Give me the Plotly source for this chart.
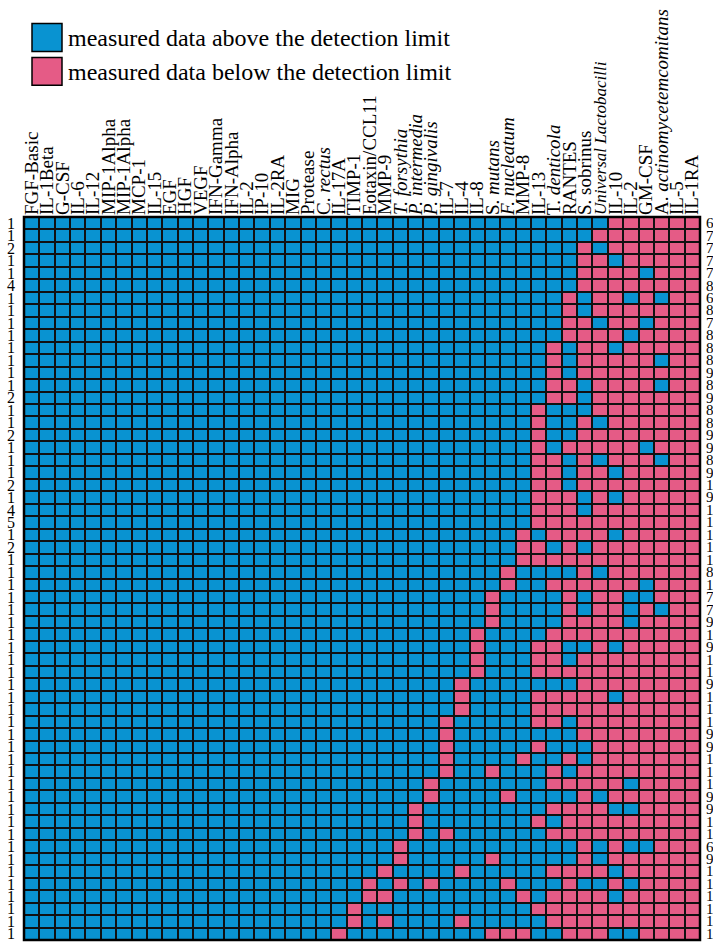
import plotly.graph_objects as go

# Analytes (columns), left to right
analytes = [
    "FGF-Basic", "IL-1Beta", "G-CSF", "IL-6", "IL-12", "MIP-1Alpha", "MIP-1Alpha",
    "MCP-1", "IL-15", "EGF", "HGF", "VEGF", "IFN-Gamma", "IFN-Alpha", "IL-2",
    "IP-10", "IL-2RA", "MIG", "Protease", "C. <i>rectus</i>", "IL-17A", "TIMP-1",
    "Eotaxin/CCL11", "MMP-9", "<i>T. forsythia</i>", "<i>P. intermedia</i>",
    "<i>P. gingivalis</i>", "IL-7", "IL-4", "IL-8", "S. <i>mutans</i>",
    "<i>F. nucleatum</i>", "MMP-8", "IL-13", "T. <i>denticola</i>", "RANTES",
    "S. sobrinus", "<span style='font-size:17px'><i>Universal Lactobacilli</i></span>",
    "IL-10", "IL-2", "GM-CSF",
    "A. <i>actinomycetemcomitans</i>", "IL-5", "IL-1RA",
]

# Number of samples sharing each detection pattern (one entry per row)
samples = [
    1, 1, 2, 1, 1, 4, 1, 1, 1, 1, 1, 1, 1, 1, 2, 1, 1, 2, 1, 1,
    1, 2, 1, 4, 5, 1, 2, 1, 1, 1, 1, 1, 1, 1, 1, 1, 1, 1, 1, 1,
    1, 1, 1, 1, 1, 1, 1, 1, 1, 1, 1, 1, 1, 1, 1, 1, 1, 1,
]

# Column indices of analytes measured below the detection limit, per row
below_limit = [
    [38, 39, 40, 41, 42, 43],
    [37, 38, 39, 40, 41, 42, 43],
    [36, 38, 39, 40, 41, 42, 43],
    [36, 37, 39, 40, 41, 42, 43],
    [36, 37, 38, 39, 41, 42, 43],
    [36, 37, 38, 39, 40, 41, 42, 43],
    [35, 37, 38, 40, 42, 43],
    [35, 37, 38, 39, 40, 41, 42, 43],
    [35, 36, 38, 39, 41, 42, 43],
    [35, 36, 37, 38, 40, 41, 42, 43],
    [34, 36, 37, 39, 40, 41, 42, 43],
    [34, 36, 37, 38, 39, 40, 42, 43],
    [34, 36, 37, 38, 39, 40, 41, 42, 43],
    [34, 35, 37, 38, 39, 40, 42, 43],
    [34, 35, 37, 38, 39, 40, 41, 42, 43],
    [33, 37, 38, 39, 40, 41, 42, 43],
    [33, 36, 38, 39, 40, 41, 42, 43],
    [33, 36, 37, 38, 39, 40, 41, 42, 43],
    [33, 35, 36, 37, 38, 39, 41, 42, 43],
    [33, 34, 36, 38, 39, 40, 42, 43],
    [33, 34, 36, 37, 39, 40, 41, 42, 43],
    [33, 34, 36, 37, 38, 39, 40, 41, 42, 43],
    [33, 34, 35, 37, 39, 40, 41, 42, 43],
    [33, 34, 35, 37, 38, 39, 40, 41, 42, 43],
    [33, 34, 35, 36, 37, 38, 39, 40, 41, 42, 43],
    [32, 34, 35, 36, 37, 39, 40, 41, 42, 43],
    [32, 33, 35, 37, 38, 39, 40, 41, 42, 43],
    [32, 33, 34, 35, 36, 37, 38, 39, 40, 41, 42, 43],
    [31, 36, 38, 39, 40, 41, 42, 43],
    [31, 34, 35, 36, 37, 38, 39, 41, 42, 43],
    [30, 35, 37, 38, 41, 42, 43],
    [30, 35, 37, 38, 40, 42, 43],
    [30, 35, 36, 37, 38, 40, 41, 42, 43],
    [29, 34, 35, 36, 37, 38, 39, 40, 41, 42, 43],
    [29, 33, 34, 37, 39, 40, 41, 42, 43],
    [29, 33, 34, 36, 37, 38, 39, 40, 41, 42, 43],
    [29, 33, 34, 35, 36, 37, 38, 39, 40, 41, 42, 43],
    [28, 36, 37, 38, 39, 40, 41, 42, 43],
    [28, 33, 34, 35, 36, 37, 39, 40, 41, 42, 43],
    [28, 33, 34, 35, 36, 37, 38, 39, 40, 41, 42, 43],
    [27, 33, 34, 36, 37, 38, 39, 40, 41, 42, 43],
    [27, 36, 37, 38, 39, 40, 41, 42, 43],
    [27, 33, 37, 38, 39, 40, 41, 42, 43],
    [27, 32, 35, 37, 38, 39, 40, 41, 42, 43],
    [27, 30, 34, 36, 37, 38, 39, 40, 41, 42, 43],
    [26, 34, 35, 36, 37, 38, 40, 41, 42, 43],
    [26, 31, 36, 38, 39, 40, 41, 42, 43],
    [25, 34, 35, 36, 37, 40, 41, 42, 43],
    [25, 33, 35, 36, 37, 38, 39, 40, 41, 42, 43],
    [25, 27, 34, 35, 36, 37, 38, 39, 40, 41, 42, 43],
    [24, 36, 38, 41, 42, 43],
    [24, 30, 36, 38, 39, 40, 41, 42, 43],
    [23, 28, 34, 35, 36, 37, 39, 40, 41, 42, 43],
    [22, 24, 26, 31, 35, 38, 40, 41, 42, 43],
    [22, 23, 32, 34, 35, 36, 37, 39, 40, 41, 42, 43],
    [21, 33, 34, 35, 36, 37, 38, 39, 40, 41, 42, 43],
    [21, 23, 28, 34, 35, 36, 37, 38, 39, 40, 41, 42, 43],
    [20, 30, 31, 32, 35, 36, 37, 40, 41, 42, 43],
]

BLUE = "#0993D1"
PINK = "#E55B86"
SERIF = "Liberation Serif, Times New Roman, serif"

n_rows = len(below_limit)
n_cols = len(analytes)
z = [[1 if c in row else 0 for c in range(n_cols)] for row in below_limit]

W, H = 713, 947
L, R, T, B = 24, 13, 217, 5
pw, ph = W - L - R, H - T - B


def px_x(p):
    return (p - L) / pw


def px_y(p):
    return (H - B - p) / ph


fig = go.Figure(
    go.Heatmap(
        z=z,
        x=list(range(n_cols)),
        y=list(range(n_rows)),
        zmin=0,
        zmax=1,
        colorscale=[[0, BLUE], [0.5, BLUE], [0.5, PINK], [1, PINK]],
        showscale=False,
        xgap=2,
        ygap=2,
        hoverinfo="skip",
    )
)

# count of below-limit analytes printed at the right end of each row
annotations = [
    dict(
        x=1, y=i, xref="paper", yref="y", text=str(len(row)),
        showarrow=False, xanchor="left", yanchor="middle", xshift=4,
        font=dict(family=SERIF, size=15, color="black"),
    )
    for i, row in enumerate(below_limit)
]

# legend: two colour swatches with captions
legend_items = [(BLUE, "measured data above the detection limit", 23, 51),
                (PINK, "measured data below the detection limit", 57, 85)]
shapes = []
for color, caption, top, bottom in legend_items:
    shapes.append(dict(
        type="rect", xref="paper", yref="paper",
        x0=px_x(32), x1=px_x(62), y0=px_y(bottom), y1=px_y(top),
        fillcolor=color, line=dict(color="black", width=1.5),
    ))
    annotations.append(dict(
        x=px_x(66), y=px_y((top + bottom) / 2 + 1), xref="paper", yref="paper",
        text=caption, showarrow=False, xanchor="left", yanchor="middle",
        font=dict(family=SERIF, size=24, color="black"),
    ))

# outer frame of the grid
shapes.append(dict(type="rect", xref="paper", yref="paper", x0=0, x1=1, y0=0, y1=1,
                   line=dict(color="black", width=2.5)))

fig.update_layout(
    width=W,
    height=H,
    margin=dict(l=L, r=R, t=T, b=B, pad=0),
    paper_bgcolor="white",
    plot_bgcolor="#111111",
    shapes=shapes,
    annotations=annotations,
    xaxis=dict(
        range=[-0.5, n_cols - 0.5], side="top", tickmode="array",
        tickvals=list(range(n_cols)), ticktext=analytes, tickangle=-90,
        tickfont=dict(family=SERIF, size=19, color="black"),
        showgrid=False, zeroline=False, ticks="", ticklabelstandoff=1,
        showline=False, fixedrange=True,
    ),
    yaxis=dict(
        range=[n_rows - 0.5, -0.5], tickmode="array",
        tickvals=list(range(n_rows)), ticktext=[str(s) for s in samples],
        tickfont=dict(family=SERIF, size=16, color="black"),
        showgrid=False, zeroline=False, ticks="", ticklabelstandoff=8,
        showline=False, fixedrange=True,
    ),
)

fig.write_html("out.html")
